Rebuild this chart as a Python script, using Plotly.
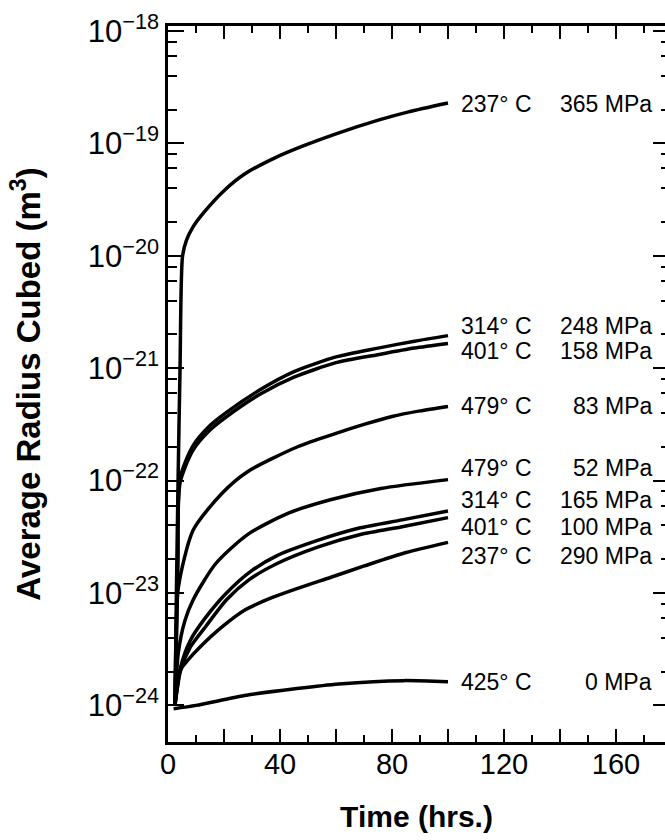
import numpy as np
import plotly.graph_objects as go

# Average cubed precipitate radius (m^3) versus ageing time (hrs) for
# several temperature / applied stress combinations.
temps = ["237° C", "314° C", "401° C", "479° C", "479° C", "314° C", "401° C", "237° C", "425° C"]
stresses = ["365 MPa", "248 MPa", "158 MPa", "83 MPa", "52 MPa", "165 MPa", "100 MPa", "290 MPa", "0 MPa"]

t_365 = [2.5, 3.0, 3.6, 4.3, 5.2, 6.6, 9, 12.6, 20, 27.5, 38, 48.5, 60.5, 75.4, 85.9, 100]
r3_365 = [1.0e-24, 1.0e-23, 1.0e-22, 1.0e-21, 1.0e-20, 1.38e-20, 1.82e-20, 2.40e-20, 3.80e-20,
          5.37e-20, 7.41e-20, 9.55e-20, 1.23e-19, 1.62e-19, 1.91e-19, 2.29e-19]

t_248 = [2.5, 3.0, 3.5, 4.3, 8.9, 15, 21, 33, 45, 60, 75, 88, 100]
r3_248 = [1.0e-24, 3.98e-24, 2.0e-23, 1.05e-22, 2.04e-22, 3.09e-22, 4.07e-22, 6.46e-22,
          9.33e-22, 1.26e-21, 1.51e-21, 1.74e-21, 1.95e-21]

t_158 = [2.5, 3.0, 3.5, 4.3, 8.9, 15, 21, 33, 45, 60, 75, 88, 100]
r3_158 = [1.0e-24, 3.98e-24, 2.0e-23, 9.55e-23, 1.86e-22, 2.82e-22, 3.72e-22, 5.89e-22,
          8.32e-22, 1.12e-21, 1.32e-21, 1.51e-21, 1.66e-21]

t_83 = [2.5, 2.8, 3.7, 9, 19.4, 28.4, 46.3, 60, 70, 80, 90, 100]
r3_83 = [1.0e-24, 3.16e-24, 1.12e-23, 3.63e-23, 7.76e-23, 1.20e-22, 2.0e-22, 2.63e-22,
         3.16e-22, 3.72e-22, 4.17e-22, 4.57e-22]

t_52 = [2.5, 3.7, 6, 9, 17, 28.4, 43, 58, 76, 100]
r3_52 = [1.0e-24, 2.95e-24, 5.62e-24, 8.71e-24, 1.82e-23, 3.31e-23, 5.13e-23, 6.76e-23,
         8.51e-23, 1.02e-22]

t_165 = [2.5, 4.5, 8, 13.4, 20.9, 29.9, 38.8, 53.7, 68.7, 83.6, 100]
r3_165 = [1.0e-24, 2.19e-24, 3.80e-24, 6.03e-24, 1.0e-23, 1.58e-23, 2.14e-23, 2.95e-23,
          3.80e-23, 4.47e-23, 5.37e-23]

t_100 = [2.5, 4.5, 8, 13.4, 20.9, 29.1, 38.8, 53.7, 68.7, 83.6, 100]
r3_100 = [1.0e-24, 2.04e-24, 3.31e-24, 5.01e-24, 8.71e-24, 1.32e-23, 1.82e-23, 2.57e-23,
          3.31e-23, 3.89e-23, 4.68e-23]

t_290 = [2.5, 4.3, 7, 11.9, 19.4, 27.6, 37.3, 46.3, 58.2, 70.1, 85, 100]
r3_290 = [1.0e-24, 2.04e-24, 2.51e-24, 3.39e-24, 5.01e-24, 7.08e-24, 9.12e-24, 1.10e-23,
          1.38e-23, 1.74e-23, 2.29e-23, 2.82e-23]

t_0 = [2, 10, 28, 46, 61, 84, 100]
r3_0 = [9.33e-25, 1.0e-24, 1.23e-24, 1.41e-24, 1.55e-24, 1.66e-24, 1.62e-24]

series_t = [t_365, t_248, t_158, t_83, t_52, t_165, t_100, t_290, t_0]
series_r3 = [r3_365, r3_248, r3_158, r3_83, r3_52, r3_165, r3_100, r3_290, r3_0]

# vertical position of each curve label (m^3)
label_r3 = [2.25e-19, 2.37e-21, 1.42e-21, 4.61e-22, 1.29e-22, 6.71e-23, 3.86e-23, 2.13e-23, 1.61e-24]

x_ticks = [0, 20, 40, 60, 80, 100, 120, 140, 160]
x_ticktext = ["0", "", "40", "", "80", "", "120", "", "160"]
y_ticks = [1e-24, 1e-23, 1e-22, 1e-21, 1e-20, 1e-19, 1e-18]
y_ticktext = ["10<sup>\u221224</sup>", "10<sup>\u221223</sup>", "10<sup>\u221222</sup>",
              "10<sup>\u221221</sup>", "10<sup>\u221220</sup>", "10<sup>\u221219</sup>",
              "10<sup>\u221218</sup>"]
y_minor = [m * d for d in y_ticks[:-1] for m in (2, 4, 6, 8)]

FONT = "Liberation Sans, Arial, Helvetica, sans-serif"
X_RANGE = [0, 177.5]
Y_RANGE = [-24.326, -17.955]
TICK = dict(ticks="inside", tickwidth=2, tickcolor="black")

fig = go.Figure()
for i, (t, r3, tc, st) in enumerate(zip(series_t, series_r3, temps, stresses)):
    fig.add_trace(go.Scatter(
        x=t, y=r3, mode="lines", name=f"{tc} {st}",
        # the last curve sits on the twin right-hand axis (same range) so that
        # the inward ticks along the right frame get drawn
        yaxis="y2" if i == len(series_t) - 1 else "y",
        line=dict(color="black", width=3.5, shape="spline", smoothing=0.7),
        showlegend=False, hoverinfo="skip",
    ))

for tc, st, ly in zip(temps, stresses, label_r3):
    fig.add_annotation(x=104.0, y=np.log10(ly), xref="x", yref="y", text=tc,
                       showarrow=False, xanchor="left", yanchor="middle",
                       font=dict(family=FONT, size=23, color="black"))
    fig.add_annotation(x=173.6, y=np.log10(ly), xref="x", yref="y", text=st,
                       showarrow=False, xanchor="right", yanchor="middle",
                       font=dict(family=FONT, size=23, color="black"))

fig.update_layout(
    width=665, height=840,
    margin=dict(l=168, r=0, t=26, b=98),
    paper_bgcolor="white", plot_bgcolor="white",
    font=dict(family=FONT, color="black"),
    xaxis=dict(
        range=X_RANGE, showgrid=False, zeroline=False,
        showline=True, linecolor="black", linewidth=2.5, mirror="ticks",
        ticklen=13, tickmode="array", tickvals=x_ticks, ticktext=x_ticktext,
        tickfont=dict(family=FONT, size=29, color="black"),
        ticklabelstandoff=-6, **TICK,
        minor=dict(dtick=10, ticklen=7, showgrid=False, **TICK),
        title=dict(text="<b>Time (hrs.)</b>", font=dict(family=FONT, size=30, color="black"), standoff=28),
    ),
    yaxis=dict(
        type="log", range=Y_RANGE, showgrid=False, zeroline=False,
        showline=True, linecolor="black", linewidth=2.5,
        ticklen=16, tickmode="array", tickvals=y_ticks, ticktext=y_ticktext,
        tickfont=dict(family=FONT, size=31, color="black"), **TICK,
        minor=dict(tickmode="array", tickvals=y_minor, ticklen=9, showgrid=False, **TICK),
        title=dict(text="<b>Average Radius Cubed (m<sup>3</sup>)</b>",
                   font=dict(family=FONT, size=33, color="black"), standoff=38),
    ),
    yaxis2=dict(
        type="log", range=Y_RANGE, overlaying="y", side="right", anchor="x",
        showgrid=False, zeroline=False, showline=False, showticklabels=False,
        ticklen=12, tickmode="array", tickvals=y_ticks, **TICK,
        minor=dict(tickmode="array", tickvals=y_minor, ticklen=4, showgrid=False, **TICK),
    ),
)

fig.write_html("out.html")
